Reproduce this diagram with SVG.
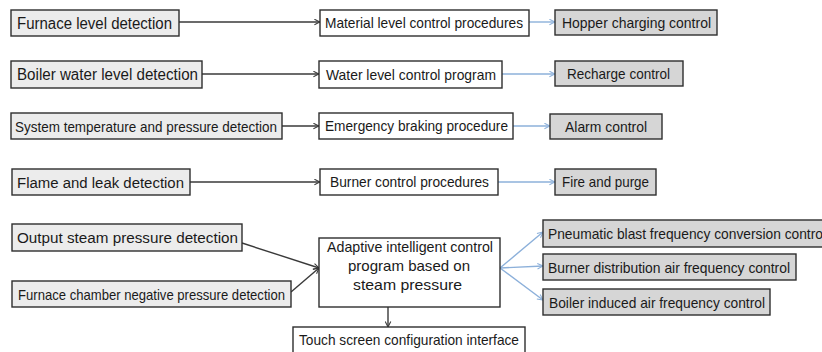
<svg xmlns="http://www.w3.org/2000/svg" width="822" height="352" viewBox="0 0 822 352">
<defs>
<style>
text{font-family:"Liberation Sans",Arial,sans-serif;fill:#1a1a1a;}
.in rect{fill:#ececec;stroke:#2e2e2e;stroke-width:1.4;}
.mid rect{fill:#ffffff;stroke:#2e2e2e;stroke-width:1.4;}
.out rect{fill:#d6d6d6;stroke:#2e2e2e;stroke-width:1.4;}
.k{stroke:#3a3a3a;stroke-width:1.4;fill:none;marker-end:url(#ak);}
.b{stroke:#8cb0da;stroke-width:1.4;fill:none;marker-end:url(#ab);}
</style>
<marker id="ak" viewBox="0 0 10 10" refX="9" refY="5" markerWidth="7" markerHeight="7" markerUnits="userSpaceOnUse" orient="auto"><path d="M1,1 L9,5 L1,9" fill="none" stroke="#3a3a3a" stroke-width="1.5"/></marker>
<marker id="ab" viewBox="0 0 10 10" refX="9" refY="5" markerWidth="7" markerHeight="7" markerUnits="userSpaceOnUse" orient="auto"><path d="M1,1 L9,5 L1,9" fill="none" stroke="#8cb0da" stroke-width="1.5"/></marker>
</defs>
<rect width="822" height="352" fill="#ffffff"/>
<g id="connectors">
<line class="k" x1="179" y1="22" x2="320" y2="22"/>
<line class="k" x1="202" y1="74" x2="319" y2="74"/>
<line class="k" x1="282" y1="126" x2="319" y2="126"/>
<line class="k" x1="190" y1="182" x2="320" y2="182"/>
<line class="b" x1="529" y1="22" x2="555" y2="22"/>
<line class="b" x1="502" y1="74" x2="555" y2="74"/>
<line class="b" x1="513" y1="126" x2="550" y2="126"/>
<line class="b" x1="498" y1="182" x2="555" y2="182"/>
<line class="k" x1="242" y1="243" x2="319" y2="268"/>
<line class="k" x1="291" y1="292" x2="319" y2="268"/>
<line class="k" x1="388" y1="307" x2="388" y2="327"/>
<line class="b" x1="500" y1="268" x2="543" y2="232"/>
<line class="b" x1="500" y1="268" x2="543" y2="266"/>
<line class="b" x1="500" y1="268" x2="543" y2="300"/>
</g>
<g id="furnace-level" class="in"><rect x="11" y="10" width="168" height="26"/><text x="17" y="28.5" font-size="16" textLength="155" lengthAdjust="spacingAndGlyphs">Furnace level detection</text></g>
<g id="boiler-water" class="in"><rect x="11" y="61" width="191" height="27"/><text x="17" y="80" font-size="16" textLength="181" lengthAdjust="spacingAndGlyphs">Boiler water level detection</text></g>
<g id="system-temp" class="in"><rect x="11" y="113" width="271" height="26"/><text x="15" y="131.5" font-size="15" textLength="262" lengthAdjust="spacingAndGlyphs">System temperature and pressure detection</text></g>
<g id="flame-leak" class="in"><rect x="12" y="169" width="178" height="26"/><text x="17" y="187.5" font-size="15.5" textLength="167" lengthAdjust="spacingAndGlyphs">Flame and leak detection</text></g>
<g id="output-steam" class="in"><rect x="12" y="224" width="230" height="27"/><text x="17" y="243" font-size="15.5" textLength="221" lengthAdjust="spacingAndGlyphs">Output steam pressure detection</text></g>
<g id="furnace-chamber" class="in"><rect x="12" y="281" width="279" height="26"/><text x="18" y="299.5" font-size="15" textLength="267" lengthAdjust="spacingAndGlyphs">Furnace chamber negative pressure detection</text></g>
<g id="material-level" class="mid"><rect x="320" y="10" width="209" height="26"/><text x="325" y="28" font-size="14.5" textLength="198" lengthAdjust="spacingAndGlyphs">Material level control procedures</text></g>
<g id="water-level" class="mid"><rect x="319" y="61" width="183" height="27"/><text x="326" y="79.5" font-size="14.5" textLength="170" lengthAdjust="spacingAndGlyphs">Water level control program</text></g>
<g id="emergency" class="mid"><rect x="319" y="113" width="194" height="26"/><text x="325" y="131" font-size="14.5" textLength="183" lengthAdjust="spacingAndGlyphs">Emergency braking procedure</text></g>
<g id="burner-control" class="mid"><rect x="320" y="169" width="178" height="26"/><text x="330" y="187" font-size="14.5" textLength="159" lengthAdjust="spacingAndGlyphs">Burner control procedures</text></g>
<g id="adaptive" class="mid"><rect x="319" y="238" width="181" height="69"/>
<text x="327" y="252" font-size="14.5" textLength="166" lengthAdjust="spacingAndGlyphs">Adaptive intelligent control</text>
<text x="348" y="271" font-size="14.5" textLength="122" lengthAdjust="spacingAndGlyphs">program based on</text>
<text x="353" y="290" font-size="14.5" textLength="109" lengthAdjust="spacingAndGlyphs">steam pressure</text></g>
<g id="touch-screen" class="mid"><rect x="293" y="327" width="232" height="30"/><text x="299" y="345" font-size="14.5" textLength="220" lengthAdjust="spacingAndGlyphs">Touch screen configuration interface</text></g>
<g id="hopper" class="out"><rect x="555" y="10" width="162" height="25"/><text x="562" y="28" font-size="14.5" textLength="149" lengthAdjust="spacingAndGlyphs">Hopper charging control</text></g>
<g id="recharge" class="out"><rect x="555" y="61" width="128" height="25"/><text x="567" y="79" font-size="14.5" textLength="103" lengthAdjust="spacingAndGlyphs">Recharge control</text></g>
<g id="alarm" class="out"><rect x="550" y="114" width="112" height="25"/><text x="565" y="132" font-size="14.5" textLength="82" lengthAdjust="spacingAndGlyphs">Alarm control</text></g>
<g id="fire-purge" class="out"><rect x="555" y="169" width="101" height="26"/><text x="562" y="187" font-size="14.5" textLength="87" lengthAdjust="spacingAndGlyphs">Fire and purge</text></g>
<g id="pneumatic" class="out"><rect x="543" y="220" width="290" height="27"/><text x="548" y="239" font-size="15" textLength="278" lengthAdjust="spacingAndGlyphs">Pneumatic blast frequency conversion control</text></g>
<g id="burner-distribution" class="out"><rect x="543" y="254" width="253" height="26"/><text x="548" y="272.5" font-size="15" textLength="242" lengthAdjust="spacingAndGlyphs">Burner distribution air frequency control</text></g>
<g id="boiler-induced" class="out"><rect x="543" y="289" width="227" height="26"/><text x="549" y="307.5" font-size="15" textLength="216" lengthAdjust="spacingAndGlyphs">Boiler induced air frequency control</text></g>
</svg>
